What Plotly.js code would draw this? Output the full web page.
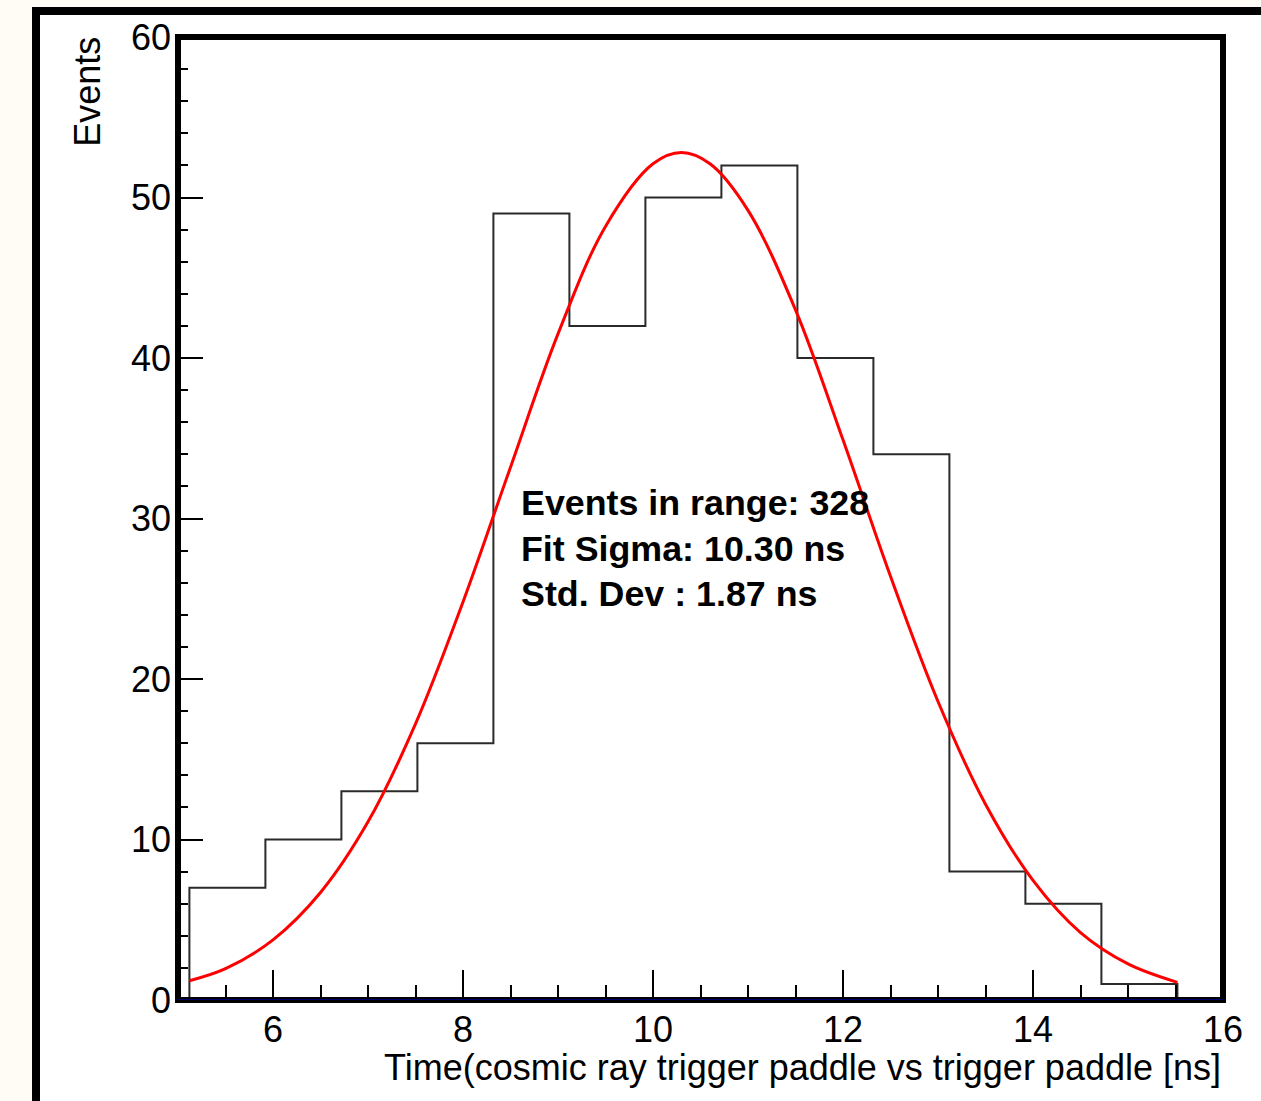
<!DOCTYPE html>
<html>
<head>
<meta charset="utf-8">
<script src="https://cdn.plot.ly/plotly-3.0.1.min.js"></script>
<style>
  html, body { margin:0; padding:0; background:#fffcf5; overflow:hidden; }
  #frame { position:absolute; left:32px; top:7px; width:1300px; height:1200px;
           border:8px solid #000; background:#fff; }
  #plot { position:absolute; left:0; top:0; width:1261px; height:1101px; }
</style>
</head>
<body>
<div id="frame"></div>
<div id="plot"></div>
<script>
// Histogram: lower bin edges (ns) and counts
const binLow = [5.12, 5.92, 6.72, 7.52, 8.32, 9.12, 9.92, 10.72, 11.52, 12.32, 13.12, 13.92, 14.72];
const binWidth = 0.8;
const counts = [7, 10, 13, 16, 49, 42, 50, 52, 40, 34, 8, 6, 1];

// Red fit curve
const fitX = [5.12, 5.5, 6.0, 6.5, 7.0, 7.5, 8.0, 8.5, 9.0, 9.5, 10.0, 10.3, 10.6, 11.0, 11.5, 12.0, 12.5, 13.0, 13.5, 14.0, 14.5, 15.0, 15.52];
const fitY = [1.2, 1.95, 3.75, 6.7, 11.1, 17.2, 24.8, 33.2, 41.5, 48.2, 52.1, 52.8, 52.1, 49.2, 43.0, 34.9, 26.4, 18.6, 12.2, 7.45, 4.2, 2.25, 1.1];

const statLines = ["Events in range: 328", "Fit Sigma: 10.30 ns", "Std. Dev : 1.87 ns"];
const xTitle = "Time(cosmic ray trigger paddle vs trigger paddle [ns]";
const yTitle = "Events";

// build step outline
const hx = [binLow[0]], hy = [0];
for (let i = 0; i < counts.length; i++) { hx.push(binLow[i]); hy.push(counts[i]); }
hx.push(binLow[binLow.length - 1] + binWidth); hy.push(0);

const FONT = "Liberation Sans, Arial, Helvetica, sans-serif";

const traces = [
  { x: hx, y: hy, type: 'scatter', mode: 'lines',
    line: { shape: 'hv', color: '#2a2a2a', width: 2 }, hoverinfo: 'skip' },
  { x: fitX, y: fitY, type: 'scatter', mode: 'lines',
    line: { shape: 'spline', color: '#ff0000', width: 3 }, hoverinfo: 'skip' }
];

const statY = [0.516, 0.468, 0.4215];
const annotations = statLines.map((t, i) => ({
  text: t, xref: 'paper', yref: 'paper', x: 0.326, y: statY[i],
  xanchor: 'left', yanchor: 'middle', showarrow: false,
  font: { family: FONT, size: 35.8, color: '#000', weight: 'bold' }
}));
annotations.push({
  text: xTitle, xref: 'paper', yref: 'paper', x: 1, y: -0.0705,
  xanchor: 'right', yanchor: 'middle', showarrow: false,
  font: { family: FONT, size: 36, color: '#000' }
});
annotations.push({
  text: yTitle, xref: 'paper', yref: 'paper', x: -0.0874, y: 1.002,
  xanchor: 'center', yanchor: 'top', textangle: -90, showarrow: false,
  font: { family: FONT, size: 36, color: '#000' }
});

const layout = {
  width: 1261, height: 1101,
  margin: { l: 178, r: 38, t: 37, b: 101 },
  paper_bgcolor: 'rgba(0,0,0,0)', plot_bgcolor: 'rgba(0,0,0,0)',
  showlegend: false,
  xaxis: {
    range: [5, 16], tick0: 0, dtick: 2, ticks: 'inside', ticklen: 30, tickwidth: 2,
    tickcolor: '#000', showgrid: false, zeroline: false, showline: false,
    ticklabelstandoff: 5,
    tickfont: { family: FONT, size: 36, color: '#000' },
    minor: { dtick: 0.5, tick0: 0, ticks: 'inside', ticklen: 15, tickwidth: 2, tickcolor: '#000', showgrid: false }
  },
  yaxis: {
    range: [0, 60], tick0: 0, dtick: 10, ticks: 'inside', ticklen: 25, tickwidth: 2,
    tickcolor: '#000', showgrid: false, zeroline: false, showline: false,
    ticklabelstandoff: 6,
    tickfont: { family: FONT, size: 36, color: '#000' },
    minor: { dtick: 2, tick0: 0, ticks: 'inside', ticklen: 10, tickwidth: 2, tickcolor: '#000', showgrid: false }
  },
  shapes: [
    { type: 'rect', xref: 'paper', yref: 'paper', x0: 0, x1: 1, y0: 0, y1: 1,
      line: { color: '#000', width: 6 }, layer: 'above' },
    { type: 'line', xref: 'paper', yref: 'y', x0: 0, x1: 1, y0: 0, y1: 0,
      line: { color: '#000070', width: 2 }, layer: 'above' }
  ],
  annotations: annotations
};

Plotly.newPlot('plot', traces, layout, { staticPlot: true, displayModeBar: false });
</script>
</body>
</html>
